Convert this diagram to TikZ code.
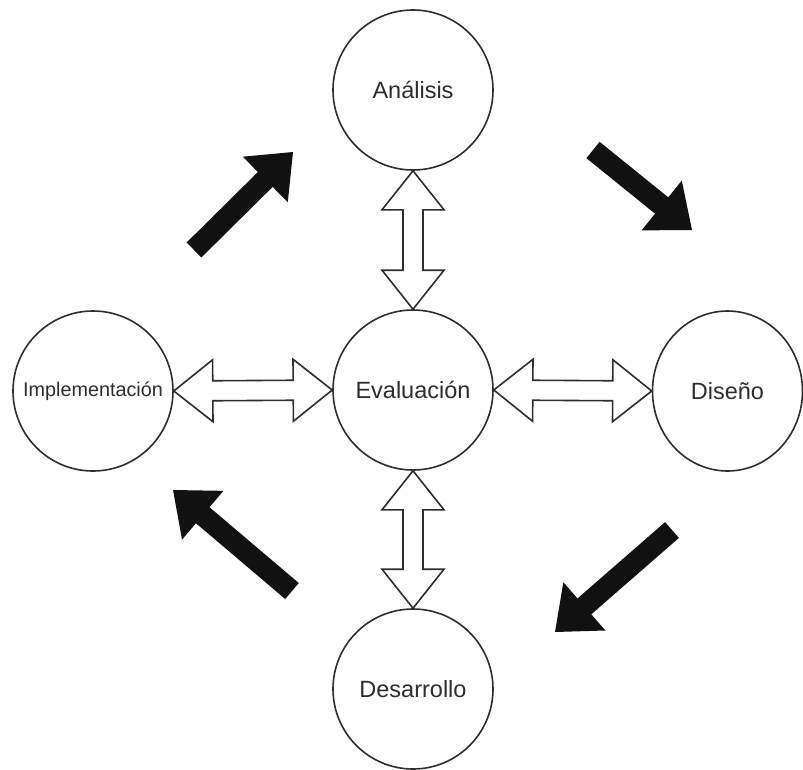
\documentclass[tikz,border=0pt]{standalone}
\usepackage{fontspec}
\setmainfont{Liberation Sans}
\usetikzlibrary{calc,shapes.geometric}

\definecolor{ink}{RGB}{45,45,45}
\definecolor{solid}{RGB}{17,17,17}

% hollow two-headed block arrow between two tips
\newcommand\twoway[2]{%
  \draw[hollowarrow]
    (#1)
    -- ($(#1)!39pt!(#2)!31pt!90:(#2)$)
    -- ($(#1)!39pt!(#2)!10pt!90:(#2)$)
    -- ($(#2)!39pt!(#1)!10pt!-90:(#1)$)
    -- ($(#2)!39pt!(#1)!31pt!-90:(#1)$)
    -- (#2)
    -- ($(#2)!39pt!(#1)!31pt!90:(#1)$)
    -- ($(#2)!39pt!(#1)!10pt!90:(#1)$)
    -- ($(#1)!39pt!(#2)!10pt!-90:(#2)$)
    -- ($(#1)!39pt!(#2)!31pt!-90:(#2)$)
    -- cycle;}

% solid one-headed block arrow from tail #1 to tip #2
\newcommand\oneway[2]{%
  \fill[solidarrow]
    ($(#1)!10.5pt!90:(#2)$)
    -- ($(#2)!39pt!(#1)!10.5pt!-90:(#1)$)
    -- ($(#2)!39pt!(#1)!32pt!-90:(#1)$)
    -- (#2)
    -- ($(#2)!39pt!(#1)!32pt!90:(#1)$)
    -- ($(#2)!39pt!(#1)!10.5pt!90:(#1)$)
    -- ($(#1)!10.5pt!-90:(#2)$)
    -- cycle;}

\tikzset{
  phase/.style={circle, draw=ink, line width=1.6pt, fill=white,
    minimum size=160pt, inner sep=0pt, text=ink,
    font=\fontsize{23.5}{28}\selectfont},
  hollowarrow/.style={draw=ink, line width=1.6pt, fill=white,
    line join=miter},
  solidarrow/.style={fill=solid},
}

\begin{document}
\begin{tikzpicture}[x=1pt, y=-1pt]
  \useasboundingbox (0,0) rectangle (803,769);

  \node[phase] (ana) at (413,90) {Análisis};
  \node[phase] (eva) at (413,390) {Evaluación};
  \node[phase] (des) at (413,689) {Desarrollo};
  \node[phase, font=\fontsize{19.8}{24}\selectfont] (imp) at (93,391) {Implementación};
  \node[phase, ellipse, minimum width=150pt, minimum height=160pt] (dis) at (727.5,391) {Diseño};

  % links between the centre and each phase
  \twoway{ana.south}{eva.north}
  \twoway{imp.east}{eva.west}
  \twoway{eva.east}{dis.west}
  \twoway{eva.south}{des.north}

  % cycle direction
  \coordinate (tlA) at (194,250); \coordinate (tlB) at (293,152);
  \coordinate (trA) at (593,150); \coordinate (trB) at (692,230);
  \coordinate (brA) at (672,530); \coordinate (brB) at (555,632);
  \coordinate (blA) at (292,591); \coordinate (blB) at (173,490);
  \oneway{tlA}{tlB}
  \oneway{trA}{trB}
  \oneway{brA}{brB}
  \oneway{blA}{blB}
\end{tikzpicture}
\end{document}
